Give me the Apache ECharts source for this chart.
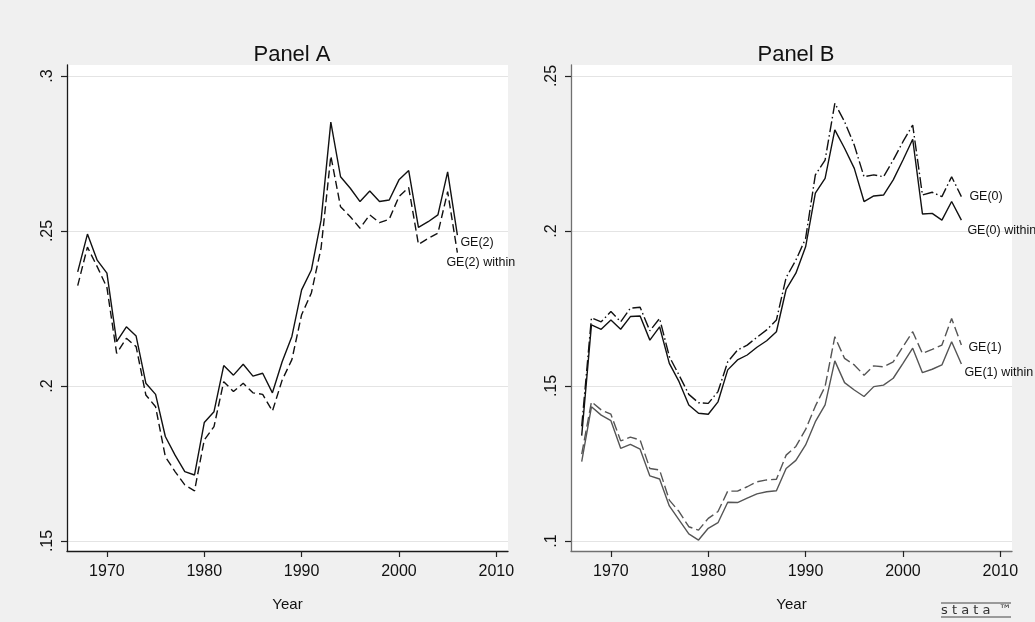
<!DOCTYPE html>
<html>
<head>
<meta charset="utf-8">
<script src="https://cdn.jsdelivr.net/npm/echarts@6/dist/echarts.min.js"></script>
<style>
html,body{margin:0;padding:0;background:#f0f0f0;}
#c{width:1035px;height:622px;}
</style>
</head>
<body>
<div id="c"></div>
<script>
const years = [1967,1968,1969,1970,1971,1972,1973,1974,1975,1976,1977,1978,1979,1980,1981,1982,1983,1984,1985,1986,1987,1988,1989,1990,1991,1992,1993,1994,1995,1996,1997,1998,1999,2000,2001,2002,2003,2004,2005,2006];

const ge2 = [0.2368,0.2490,0.2406,0.2364,0.2143,0.2191,0.2161,0.2009,0.1973,0.1837,0.1777,0.1724,0.1713,0.1882,0.1917,0.2066,0.2035,0.2070,0.2032,0.2041,0.1978,0.2078,0.2160,0.2310,0.2374,0.2535,0.2851,0.2675,0.2638,0.2595,0.2629,0.2595,0.2600,0.2665,0.2695,0.2512,0.2530,0.2552,0.2691,0.2487];
const ge2Within = [0.2324,0.2448,0.2385,0.2318,0.2105,0.2154,0.2127,0.1971,0.1933,0.1772,0.1724,0.1681,0.1662,0.1826,0.1869,0.2014,0.1982,0.2009,0.1978,0.1973,0.1919,0.2019,0.2085,0.2230,0.2300,0.2445,0.2742,0.2578,0.2546,0.2509,0.2552,0.2527,0.2538,0.2611,0.2640,0.2457,0.2476,0.2493,0.2627,0.2430];

const ge0 = [0.1370,0.1720,0.1707,0.1740,0.1707,0.1751,0.1754,0.1678,0.1718,0.1595,0.1535,0.1473,0.1446,0.1444,0.1482,0.1578,0.1616,0.1632,0.1657,0.1681,0.1713,0.1850,0.1906,0.1976,0.2181,0.2229,0.2412,0.2353,0.2277,0.2175,0.2181,0.2175,0.2229,0.2288,0.2342,0.2116,0.2125,0.2111,0.2175,0.2111];
const ge0Within = [0.1340,0.1697,0.1683,0.1713,0.1683,0.1724,0.1726,0.1648,0.1691,0.1573,0.1514,0.1439,0.1412,0.1409,0.1449,0.1552,0.1584,0.1600,0.1625,0.1646,0.1675,0.1812,0.1864,0.1949,0.2122,0.2170,0.2326,0.2267,0.2202,0.2095,0.2113,0.2116,0.2165,0.2229,0.2296,0.2055,0.2057,0.2035,0.2095,0.2035];
const ge1 = [0.1280,0.1449,0.1423,0.1409,0.1323,0.1335,0.1326,0.1234,0.1229,0.1132,0.1095,0.1046,0.1035,0.1073,0.1095,0.1161,0.1161,0.1175,0.1191,0.1197,0.1199,0.1277,0.1305,0.1360,0.1435,0.1498,0.1659,0.1589,0.1568,0.1535,0.1565,0.1562,0.1578,0.1627,0.1675,0.1605,0.1618,0.1632,0.1718,0.1632];
const ge1Within = [0.1256,0.1433,0.1406,0.1388,0.1299,0.1312,0.1296,0.1210,0.1200,0.1113,0.1068,0.1023,0.1003,0.1041,0.1059,0.1125,0.1124,0.1138,0.1152,0.1159,0.1162,0.1234,0.1260,0.1310,0.1385,0.1439,0.1581,0.1511,0.1487,0.1466,0.1498,0.1503,0.1525,0.1573,0.1622,0.1543,0.1554,0.1568,0.1643,0.1571];

const xTicks = [1970,1980,1990,2000,2010];
const yTicksA = [0.15,0.2,0.25,0.3];
const yLabelsA = ['.15','.2','.25','.3'];
const yTicksB = [0.1,0.15,0.2,0.25];
const yLabelsB = ['.1','.15','.2','.25'];

const FONT = '"Liberation Sans", Arial, Helvetica, sans-serif';

function pairs(vals){
  return vals.map((v,i)=>[years[i], v]);
}

function xAxis(gridIndex, axisColor){
  return {
    type:'value', gridIndex:gridIndex, min:1965.9, max:2011.2,
    name:'Year', nameLocation:'middle', nameGap:46,
    nameTextStyle:{color:'#111', fontSize:15, fontFamily:FONT},
    axisLine:{show:true, lineStyle:{color:axisColor, width:1.3}},
    axisTick:{show:true, length:6, customValues:xTicks, lineStyle:{color:'#222', width:1.2}},
    axisLabel:{customValues:xTicks, margin:13, color:'#111', fontSize:16, fontFamily:FONT,
      formatter:v=>String(v)},
    splitLine:{show:false}
  };
}
function yAxis(gridIndex, min, max, ticks, labels, axisColor){
  return {
    type:'value', gridIndex:gridIndex, min:min, max:max,
    axisLine:{show:true, lineStyle:{color:axisColor, width:1.3}},
    axisTick:{show:true, length:6, customValues:ticks, lineStyle:{color:'#222', width:1.2}},
    axisLabel:{customValues:ticks, rotate:90, margin:11, color:'#111', fontSize:16, fontFamily:FONT,
      formatter:v=>{ const i = ticks.findIndex(t=>Math.abs(t-v)<1e-6); return i>=0 ? labels[i] : ''; }},
    splitLine:{show:true, lineStyle:{color:'#e4e4e4', width:1}}
  };
}

function line(name, xi, vals, color, type, labelText, offset){
  return {
    name:name, type:'line', xAxisIndex:xi, yAxisIndex:xi,
    data:pairs(vals),
    showSymbol:false, symbol:'none', animation:false, silent:true,
    lineStyle:{color:color, width:1.4, type:type},
    endLabel:{show:true, formatter:labelText, distance:3, offset:offset,
      color:'#111', fontSize:12.5, fontFamily:FONT, align:'left', verticalAlign:'middle'}
  };
}

const chart = echarts.init(document.getElementById('c'), null, {renderer:'canvas'});
chart.setOption({
  backgroundColor:'#f0f0f0',
  animation:false,
  title:[
    {text:'Panel A', left:287, top:39, textAlign:'center', textStyle:{fontSize:22, fontWeight:'normal', color:'#111', fontFamily:FONT}},
    {text:'Panel B', left:791, top:39, textAlign:'center', textStyle:{fontSize:22, fontWeight:'normal', color:'#111', fontFamily:FONT}}
  ],
  grid:[
    {left:67, top:65, width:441, height:486, show:true, backgroundColor:'#ffffff', borderWidth:0},
    {left:571, top:65, width:441, height:486, show:true, backgroundColor:'#ffffff', borderWidth:0}
  ],
  xAxis:[xAxis(0,'#1a1a1a'), xAxis(1,'#707070')],
  yAxis:[
    yAxis(0, 0.15-10/3100, 0.15+476/3100, yTicksA, yLabelsA, '#1a1a1a'),
    yAxis(1, 0.10-10/3100, 0.10+476/3100, yTicksB, yLabelsB, '#707070')
  ],
  series:[
    line('GE(2)', 0, ge2, '#111', 'solid', 'GE(2)', [0,8]),
    line('GE(2) within', 0, ge2Within, '#111', [8,4], 'GE(2) within', [-14,10]),
    line('GE(0)', 1, ge0, '#111', [11,3,1.5,3], 'GE(0)', [5,0]),
    line('GE(0) within', 1, ge0Within, '#111', 'solid', 'GE(0) within', [3,10.5]),
    line('GE(1)', 1, ge1, '#555', [10,4], 'GE(1)', [4,2]),
    line('GE(1) within', 1, ge1Within, '#555', 'solid', 'GE(1) within', [0,9])
  ],
  graphic:[
    {type:'line', shape:{x1:941, y1:603, x2:1011, y2:603}, style:{stroke:'#444', lineWidth:1}},
    {type:'text', x:941, y:604.5, style:{text:'s t a t a  ™', fontSize:13, fontFamily:'"DejaVu Sans", sans-serif', fill:'#333'}},
    {type:'line', shape:{x1:941, y1:617, x2:1011, y2:617}, style:{stroke:'#444', lineWidth:1}}
  ]
});
</script>
</body>
</html>
